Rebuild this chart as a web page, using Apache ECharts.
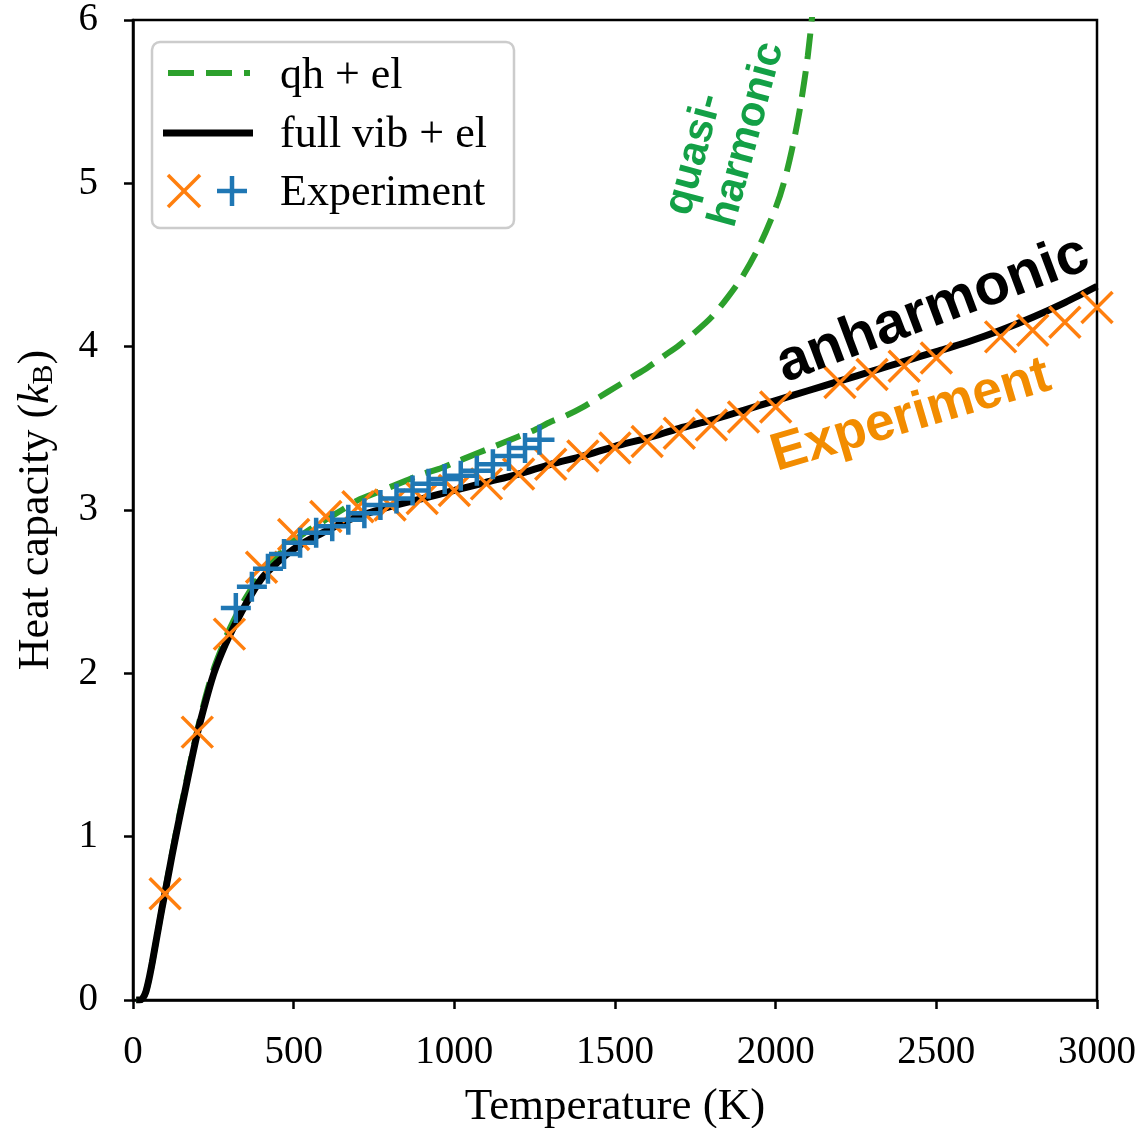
<!DOCTYPE html>
<html>
<head>
<meta charset="utf-8">
<script src="https://cdn.jsdelivr.net/npm/echarts@6/dist/echarts.min.js"></script>
<style>html,body{margin:0;padding:0;background:#fff;}#c{width:1144px;height:1128px;}</style>
</head>
<body>
<div id="c"></div>
<script>
// ---- data ----
const fullT = [10,20,30,40,50,60,70,80,90,100,120,140,160,180,200,225,250,275,300,350,400,450,500,550,600,650,700,800,900,1000,1100,1200,1300,1400,1500,1600,1700,1800,1900,2000,2100,2200,2300,2400,2500,2600,2700,2800,2900,3000];
const fullC = [0,0,0.01,0.05,0.13,0.23,0.34,0.45,0.56,0.66,0.87,1.07,1.26,1.45,1.63,1.82,1.99,2.12,2.23,2.42,2.58,2.68,2.76,2.82,2.87,2.92,2.96,3.02,3.07,3.12,3.17,3.22,3.28,3.33,3.39,3.44,3.50,3.55,3.61,3.67,3.73,3.79,3.85,3.91,3.97,4.03,4.10,4.18,4.27,4.37];

const qhT = [10,20,30,40,50,60,70,80,90,100,120,140,160,180,200,225,250,275,300,350,400,450,500,550,600,650,700,750,800,850,900,950,1000,1050,1100,1150,1200,1250,1300,1350,1400,1450,1500,1550,1600,1650,1700,1750,1800,1850,1900,1950,2000,2025,2050,2075,2100,2125];
const qhC = [0,0,0.01,0.05,0.13,0.23,0.34,0.45,0.56,0.67,0.88,1.09,1.28,1.47,1.65,1.85,2.02,2.15,2.27,2.46,2.61,2.72,2.81,2.88,2.94,3.00,3.06,3.10,3.14,3.18,3.22,3.25,3.29,3.33,3.37,3.41,3.45,3.49,3.54,3.58,3.63,3.69,3.75,3.81,3.87,3.94,4.01,4.09,4.18,4.30,4.44,4.62,4.85,5.00,5.20,5.45,5.78,6.25];

const expT = [100,200,300,400,500,600,700,800,900,1000,1100,1200,1300,1400,1500,1600,1700,1800,1900,2000,2200,2300,2400,2500,2700,2800,2900,3000];
const expC = [0.65,1.64,2.24,2.65,2.85,2.96,3.02,3.03,3.07,3.12,3.16,3.22,3.28,3.33,3.38,3.42,3.47,3.52,3.57,3.63,3.78,3.83,3.88,3.93,4.06,4.10,4.15,4.24];

const plusT = [320,370,420,470,520,570,620,670,720,770,820,870,920,970,1020,1070,1120,1170,1220,1265];
const plusC = [2.40,2.53,2.64,2.73,2.80,2.86,2.90,2.94,2.98,3.03,3.07,3.12,3.16,3.19,3.21,3.24,3.28,3.33,3.38,3.43];

const xTicks = [0,500,1000,1500,2000,2500,3000];
const yTicks = [0,1,2,3,4,5,6];

const legendLabels = ['qh + el', 'full vib + el', 'Experiment'];
const annotations = { qh: 'quasi-\nharmonic', anh: 'anharmonic', exp: 'Experiment' };

// ---- chart ----
const zip = (a, b) => a.map((v, i) => [v, b[i]]);
const SERIF = '"Liberation Serif", "Times New Roman", serif';
const SANS = '"Liberation Sans", Arial, sans-serif';
const cross = 'path://M0,0L10,10M10,0L0,10';
const plus = 'path://M5,0L5,10M0,5L10,5';

const chart = echarts.init(document.getElementById('c'), null, {renderer: 'canvas'});
const deg = Math.PI / 180;

const option = {
  animation: false,
  backgroundColor: '#fff',
  grid: { left: 133, right: 47, top: 20, bottom: 128, containLabel: false, outerBoundsMode: 'none',
          show: true, borderColor: '#000', borderWidth: 2.5, backgroundColor: 'transparent' },
  xAxis: {
    type: 'value', min: xTicks[0], max: xTicks[xTicks.length - 1], interval: 500,
    name: 'Temperature (K)', nameLocation: 'middle', nameGap: 85,
    nameTextStyle: { fontFamily: SERIF, fontSize: 45, color: '#000' },
    axisLine: { show: true, lineStyle: { color: '#000', width: 2.5 } },
    axisTick: { show: true, inside: false, length: 9, lineStyle: { color: '#000', width: 2.5 } },
    axisLabel: { fontFamily: SERIF, fontSize: 39, color: '#000', margin: 33, formatter: v => String(v) },
    splitLine: { show: false }
  },
  yAxis: {
    type: 'value', min: yTicks[0], max: yTicks[yTicks.length - 1], interval: 1,
    name: '{n|Heat capacity (}{i|k}{s|B}{n|)}', nameLocation: 'middle', nameGap: 74, nameRotate: 90,
    nameTextStyle: {
      fontFamily: SERIF, fontSize: 44, color: '#000',
      rich: {
        n: { fontFamily: SERIF, fontSize: 44, color: '#000' },
        i: { fontFamily: SERIF, fontSize: 44, fontStyle: 'italic', color: '#000' },
        s: { fontFamily: SERIF, fontSize: 30, color: '#000', verticalAlign: 'bottom', padding: [15, 0, 0, 0] }
      }
    },
    axisLine: { show: true, lineStyle: { color: '#000', width: 2.5 } },
    axisTick: { show: true, inside: false, length: 9, lineStyle: { color: '#000', width: 2.5 } },
    axisLabel: { fontFamily: SERIF, fontSize: 39, color: '#000', margin: 35, formatter: v => String(v) },
    splitLine: { show: false }
  },
  series: [
    { name: legendLabels[0], type: 'line', data: zip(qhT, qhC), showSymbol: false, smooth: 0.3, clip: true,
      lineStyle: { color: '#2ca02c', width: 6, type: [26, 12] }, z: 2 },
    { name: legendLabels[1], type: 'line', data: zip(fullT, fullC), showSymbol: false, smooth: 0.3, clip: true,
      lineStyle: { color: '#000', width: 7 }, z: 3 },
    { name: legendLabels[2], type: 'scatter', data: zip(expT, expC), symbol: cross, symbolSize: 31,
      itemStyle: { color: 'rgba(0,0,0,0)', borderColor: '#ff7f0e', borderWidth: 3.5, opacity: 1 }, z: 4 },
    { name: legendLabels[2] + ' ', type: 'scatter', data: zip(plusT, plusC), symbol: plus, symbolSize: 30,
      itemStyle: { color: 'rgba(0,0,0,0)', borderColor: '#1f77b4', borderWidth: 4.5, opacity: 1 }, z: 5 }
  ],
  graphic: [
    // annotations
    { type: 'text', x: 656, y: 208, rotation: 75 * deg, z: 10,
      style: { text: annotations.qh, font: 'bold 42px ' + SANS, fill: '#13a046', align: 'left', verticalAlign: 'top', lineHeight: 46 } },
    { type: 'text', x: 933, y: 310, rotation: 20.5 * deg, z: 10,
      style: { text: annotations.anh, font: 'bold 58px ' + SANS, fill: '#000', align: 'center', verticalAlign: 'middle' } },
    { type: 'text', x: 911, y: 416, rotation: 16.5 * deg, z: 10,
      style: { text: annotations.exp, font: 'bold 53px ' + SANS, fill: '#f28c00', align: 'center', verticalAlign: 'middle' } },
    // legend
    { type: 'rect', z: 20, shape: { x: 152, y: 42, width: 362, height: 186, r: 8 },
      style: { fill: 'rgba(255,255,255,0.85)', stroke: '#cccccc', lineWidth: 2.5 } },
    { type: 'line', z: 21, shape: { x1: 168, y1: 73, x2: 250, y2: 73 },
      style: { stroke: '#2ca02c', lineWidth: 6, lineDash: [26, 12] } },
    { type: 'line', z: 21, shape: { x1: 163, y1: 133, x2: 253, y2: 133 },
      style: { stroke: '#000', lineWidth: 7 } },
    { type: 'line', z: 21, shape: { x1: 168, y1: 175, x2: 200, y2: 207 }, style: { stroke: '#ff7f0e', lineWidth: 3.5 } },
    { type: 'line', z: 21, shape: { x1: 200, y1: 175, x2: 168, y2: 207 }, style: { stroke: '#ff7f0e', lineWidth: 3.5 } },
    { type: 'line', z: 21, shape: { x1: 232, y1: 176, x2: 232, y2: 206 }, style: { stroke: '#1f77b4', lineWidth: 4.5 } },
    { type: 'line', z: 21, shape: { x1: 217, y1: 191, x2: 247, y2: 191 }, style: { stroke: '#1f77b4', lineWidth: 4.5 } },
    { type: 'text', z: 21, x: 280, y: 76, style: { text: legendLabels[0], font: '44px ' + SERIF, fill: '#000', align: 'left', verticalAlign: 'middle' } },
    { type: 'text', z: 21, x: 280, y: 135, style: { text: legendLabels[1], font: '44px ' + SERIF, fill: '#000', align: 'left', verticalAlign: 'middle' } },
    { type: 'text', z: 21, x: 280, y: 193, style: { text: legendLabels[2], font: '44px ' + SERIF, fill: '#000', align: 'left', verticalAlign: 'middle' } }
  ]
};
chart.setOption(option);
</script>
</body>
</html>
